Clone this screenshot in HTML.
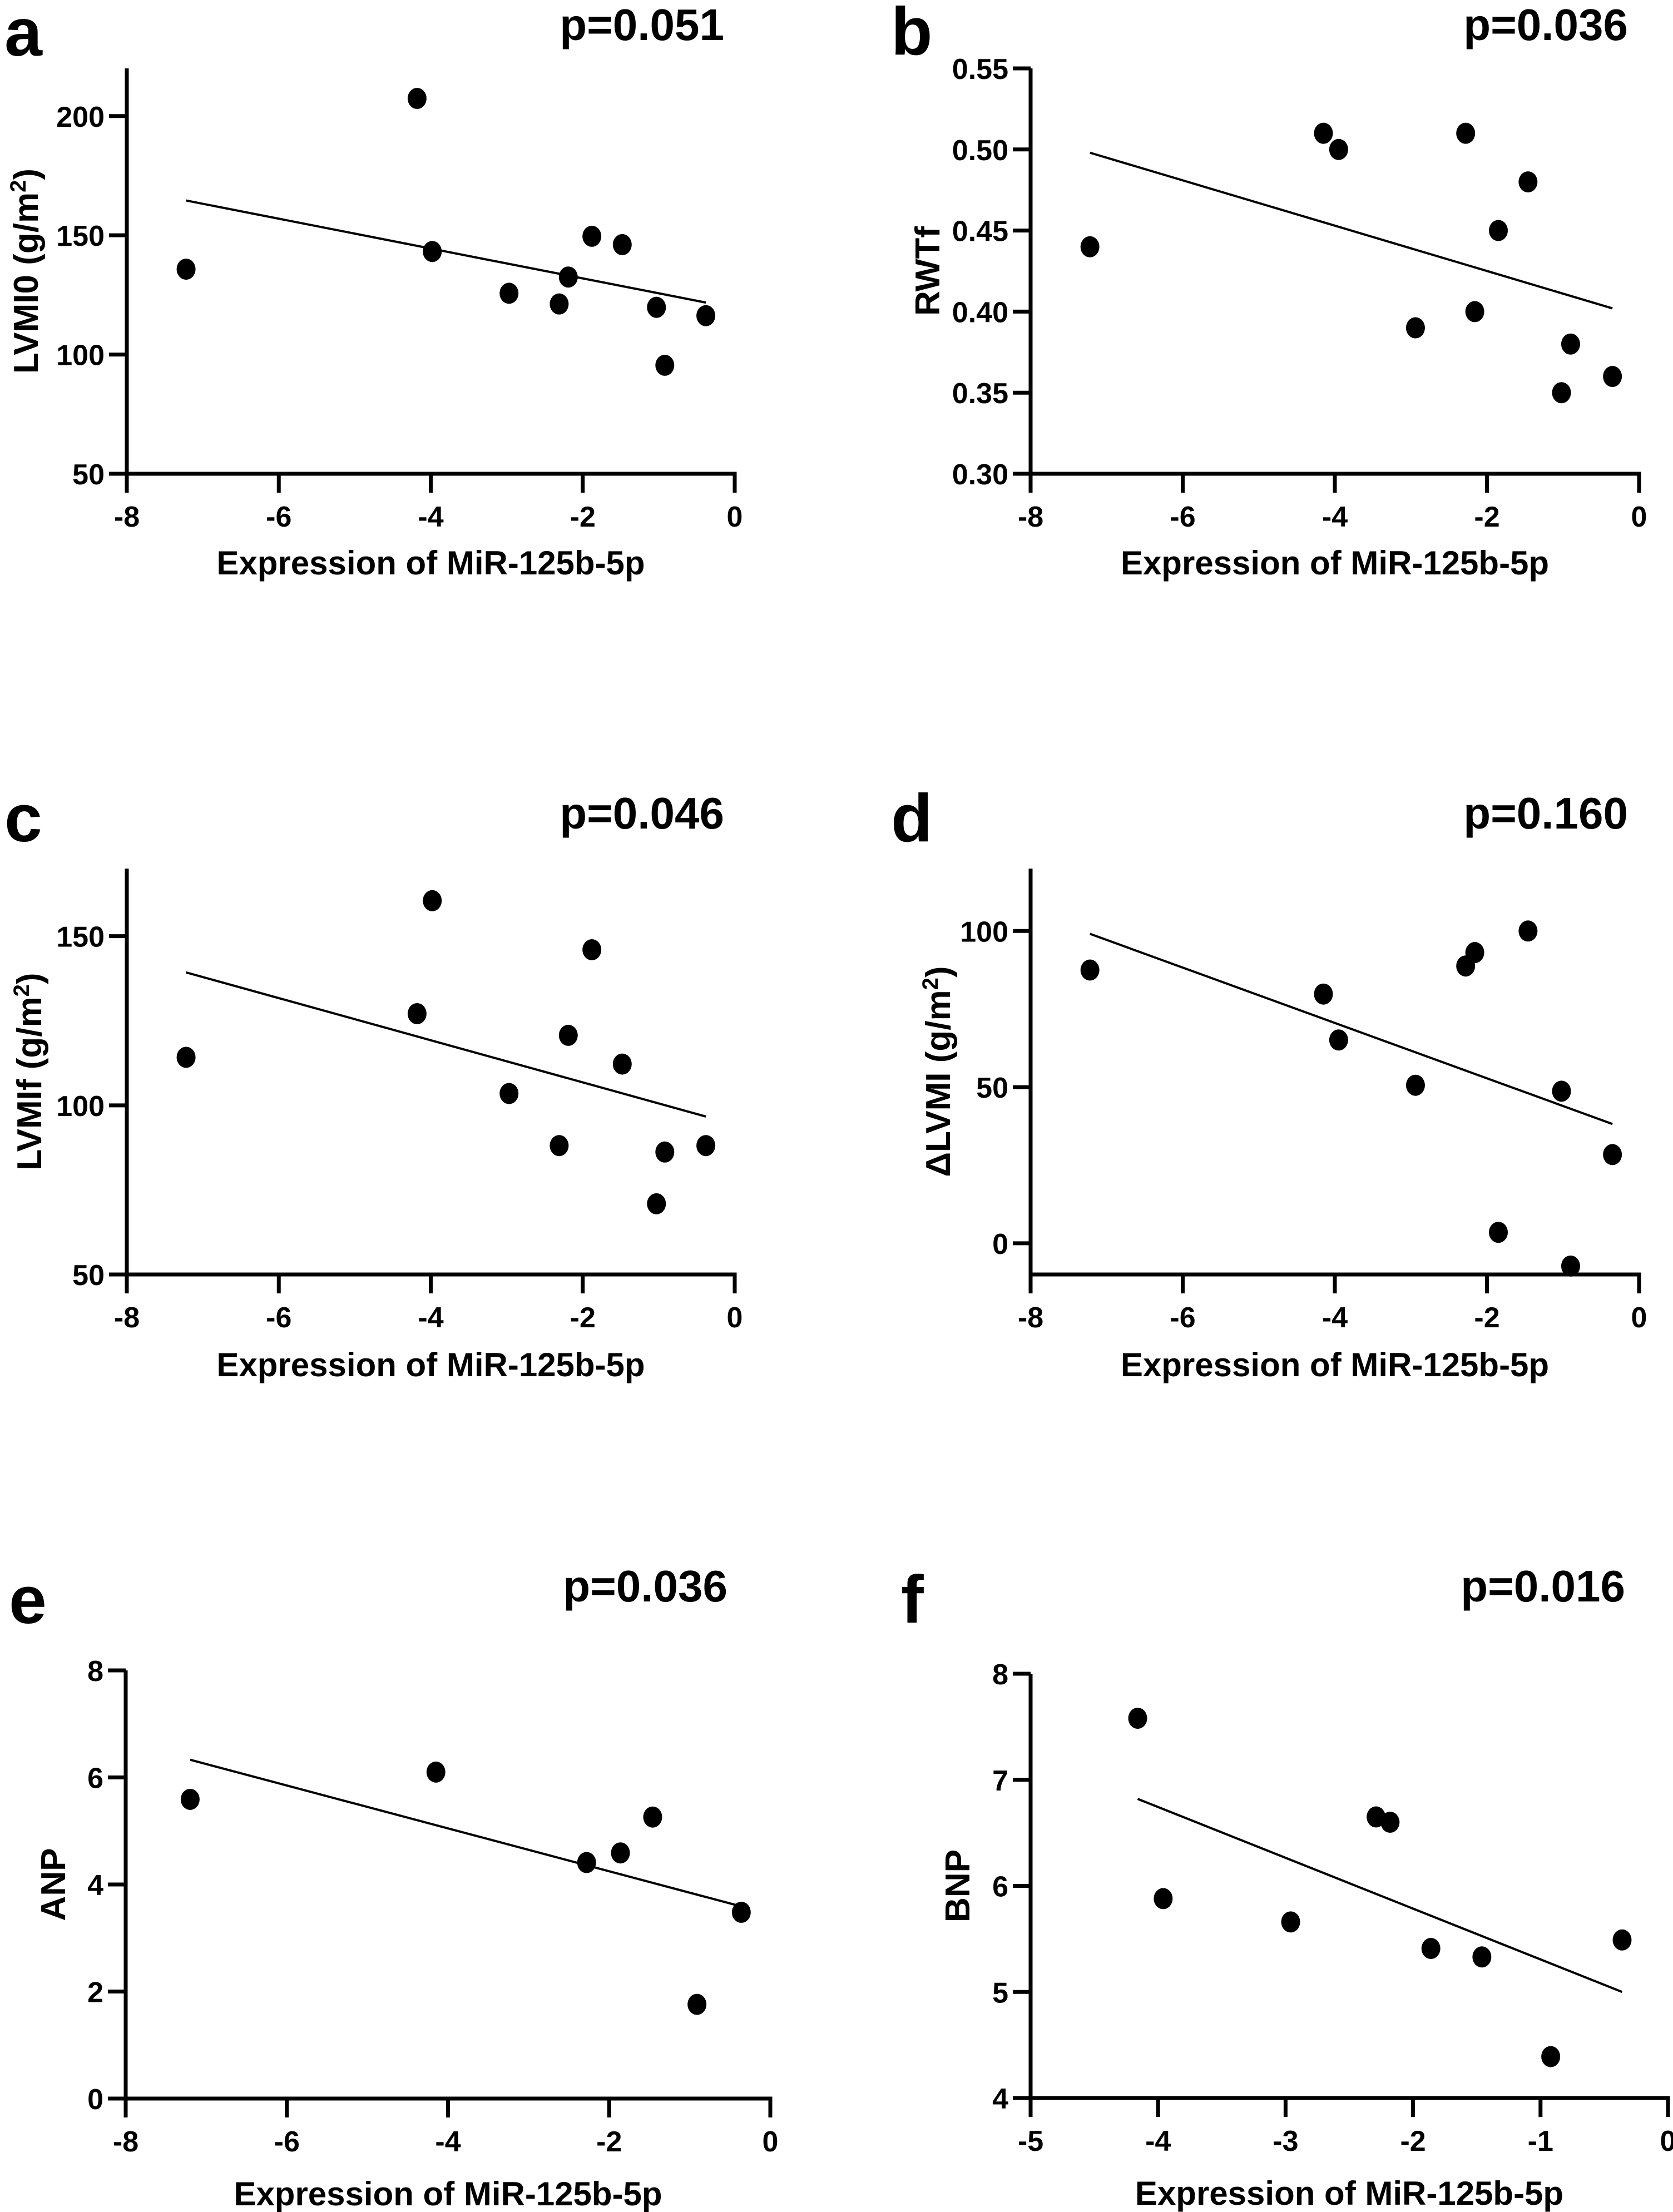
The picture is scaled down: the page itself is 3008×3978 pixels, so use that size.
<!DOCTYPE html>
<html><head><meta charset="utf-8"><style>
html,body{margin:0;padding:0;background:#fff;}
svg{display:block;}
text{font-family:"Liberation Sans",Arial,sans-serif;font-weight:bold;fill:#000;}
</style></head><body>
<svg id="fig" width="3008" height="3978" viewBox="0 0 3008 3978" xmlns="http://www.w3.org/2000/svg"></svg>
<script>
// ---- data ----
const aX = [-7.22,-4.18,-3.98,-2.97,-2.31,-2.19,-1.88,-1.48,-1.03,-0.92,-0.38];
const aY = [135.8,207.4,143.2,125.7,121.2,132.5,149.6,146.1,119.8,95.5,116.3];
const bX = [-7.22,-4.15,-3.95,-2.94,-2.28,-2.16,-1.85,-1.46,-1.02,-0.90,-0.35];
const bY = [0.44,0.51,0.50,0.39,0.51,0.40,0.45,0.48,0.35,0.38,0.36];
const cX = [-7.22,-4.18,-3.98,-2.97,-2.31,-2.19,-1.88,-1.48,-1.03,-0.92,-0.38];
const cY = [114.2,127.1,160.5,103.5,88.1,120.7,146.0,112.2,70.9,86.2,88.1];
const dX = [-7.22,-4.15,-3.95,-2.94,-2.28,-2.16,-1.85,-1.46,-1.02,-0.90,-0.35];
const dY = [87.5,79.8,65.1,50.6,88.8,93.1,3.5,100.0,48.7,-7.3,28.4];
const eX = [-7.20,-4.15,-2.28,-1.86,-1.46,-0.91,-0.36];
const eY = [5.59,6.10,4.41,4.59,5.26,1.76,3.48];
const fX = [-4.16,-3.96,-2.96,-2.29,-2.18,-1.86,-1.46,-0.92,-0.36];
const fY = [7.58,5.88,5.66,6.65,6.60,5.41,5.33,4.39,5.49];
// fitted line end values [at min x, at max x]
const aFit = [164.6,121.8];
const bFit = [0.498,0.402];
const cFit = [139.3,96.7];
const dFit = [99.1,38.2];
const eFit = [6.33,3.59];
const fFit = [6.82,5.00];
// tick labels
const xTicks8 = ["-8","-6","-4","-2","0"];
const xTicks5 = ["-5","-4","-3","-2","-1","0"];
const aYTicks = ["50","100","150","200"];
const bYTicks = ["0.30","0.35","0.40","0.45","0.50","0.55"];
const cYTicks = ["50","100","150"];
const dYTicks = ["0","50","100"];
const eYTicks = ["0","2","4","6","8"];
const fYTicks = ["4","5","6","7","8"];
const pValues = ["p=0.051","p=0.036","p=0.046","p=0.160","p=0.036","p=0.016"];

const NS = "http://www.w3.org/2000/svg";
const svg = document.getElementById('fig');
function mk(tag, attrs, parent){
  const el = document.createElementNS(NS, tag);
  for (const k in attrs) el.setAttribute(k, attrs[k]);
  (parent||svg).appendChild(el);
  return el;
}

function panel(o){
  const g = mk('g', {});
  
  
  const sx = v => o.px0 + (v - o.xmin) / (o.xmax - o.xmin) * (o.px1 - o.px0);
  const sy = v => o.py0 - (v - o.ymin) / (o.ymax - o.ymin) * (o.py0 - o.py1);
  const L = mk('text', {x:o.lx, y:o.ly, 'font-size':122}, g);
  L.textContent = o.letter;
  
  
  const P = mk('text', {x:o.pRight, y:o.pY, 'font-size':80, 'text-anchor':'end'}, g);
  P.textContent = o.p;
  
  
  const ya = mk('line', {x1:o.px0, y1:o.axTop, x2:o.px0, y2:o.py0+3.5, stroke:'#000','stroke-width':7}, g);
  
  
  const xa = mk('line', {x1:o.px0-3.5, y1:o.py0, x2:o.px1+3.5, y2:o.py0, stroke:'#000','stroke-width':7}, g);
  
  
  const xstep = (o.xmax - o.xmin) / (o.xt.length - 1);
  o.xt.forEach((t,i) => {
    const x = sx(o.xmin + i*xstep);
    const tk = mk('line', {x1:x, y1:o.py0, x2:x, y2:o.py0+34, stroke:'#000','stroke-width':7}, g);
    
    
    const tl = mk('text', {x:x, y:o.py0+95, 'font-size':52, 'text-anchor':'middle'}, g);
    tl.textContent = t;
    
    
  });
  o.yt.forEach(t => {
    const y = sy(parseFloat(t));
    const tk = mk('line', {x1:o.px0-32, y1:y, x2:o.px0, y2:y, stroke:'#000','stroke-width':7}, g);
    
    
    const tl = mk('text', {x:o.px0-40, y:y+19, 'font-size':52, 'text-anchor':'end'}, g);
    tl.textContent = t;
    
    
  });
  const xt = mk('text', {x:(o.px0+o.px1)/2, y:o.py0+o.xtOff, 'font-size':60, 'text-anchor':'middle'}, g);
  xt.textContent = 'Expression of MiR-125b-5p';
  
  
  const cy = (o.axTop + o.py0)/2;
  const yt = mk('text', {x:0, y:0, 'font-size':62, 'text-anchor':'middle', transform:'translate('+(o.ytx+21)+','+cy+') rotate(-90)'}, g);
  
  
  if (o.sup){
    const t1 = mk('tspan', {}, yt); t1.textContent = o.ytitle + ' (g/m';
    const t2 = mk('tspan', {'font-size':40, dy:-22}, yt); t2.textContent = '2';
    const t3 = mk('tspan', {dy:22}, yt); t3.textContent = ')';
  } else {
    yt.textContent = o.ytitle;
  }
  const xs = o.X;
  const mn = Math.min(...xs), mxv = Math.max(...xs);
  const fl = mk('line', {x1:sx(mn), y1:sy(o.fit[0]), x2:sx(mxv), y2:sy(o.fit[1]), stroke:'#000','stroke-width':4}, g);
  
  
  xs.forEach((xv,i) => {
    const c = mk('ellipse', {cx:sx(xv), cy:sy(o.Y[i]), rx:17, ry:19, fill:'#000'}, g);
    
    
  });
}

panel({letter:'a', lx:8, ly:100, p:pValues[0], pRight:1302, pY:72,
  px0:228, px1:1321, xmin:-8, xmax:0, py0:852, py1:123, ymin:50, ymax:220, axTop:123,
  xt:xTicks8, yt:aYTicks, X:aX, Y:aY, fit:aFit, ytitle:'LVMI0', sup:true, ytx:47, xtOff:181});
panel({letter:'b', lx:1602, ly:98, p:pValues[1], pRight:2927, pY:72,
  px0:1853, px1:2947, xmin:-8, xmax:0, py0:852, py1:123, ymin:0.30, ymax:0.55, axTop:123,
  xt:xTicks8, yt:bYTicks, X:bX, Y:bY, fit:bFit, ytitle:'RWTf', sup:false, ytx:1668, xtOff:181});
panel({letter:'c', lx:8, ly:1513, p:pValues[2], pRight:1302, pY:1490,
  px0:228, px1:1321, xmin:-8, xmax:0, py0:2292, py1:1562, ymin:50, ymax:170, axTop:1562,
  xt:xTicks8, yt:cYTicks, X:cX, Y:cY, fit:cFit, ytitle:'LVMIf', sup:true, ytx:53, xtOff:183});
panel({letter:'d', lx:1602, ly:1513, p:pValues[3], pRight:2927, pY:1490,
  px0:1853, px1:2947, xmin:-8, xmax:0, py0:2292, py1:1562, ymin:-10, ymax:120, axTop:1562,
  xt:xTicks8, yt:dYTicks, X:dX, Y:dY, fit:dFit, ytitle:'\u0394LVMI', sup:true, ytx:1687, xtOff:183});
panel({letter:'e', lx:16, ly:2919, p:pValues[4], pRight:1308, pY:2880,
  px0:226, px1:1385, xmin:-8, xmax:0, py0:3774, py1:3004, ymin:0, ymax:8, axTop:3004,
  xt:xTicks8, yt:eYTicks, X:eX, Y:eY, fit:eFit, ytitle:'ANP', sup:false, ytx:96, xtOff:192});
panel({letter:'f', lx:1620, ly:2918, p:pValues[5], pRight:2922, pY:2880,
  px0:1853, px1:2999, xmin:-5, xmax:0, py0:3773, py1:3010, ymin:4, ymax:8, axTop:3010,
  xt:xTicks5, yt:fYTicks, X:fX, Y:fY, fit:fFit, ytitle:'BNP', sup:false, ytx:1722, xtOff:192});
</script>
</body></html>
